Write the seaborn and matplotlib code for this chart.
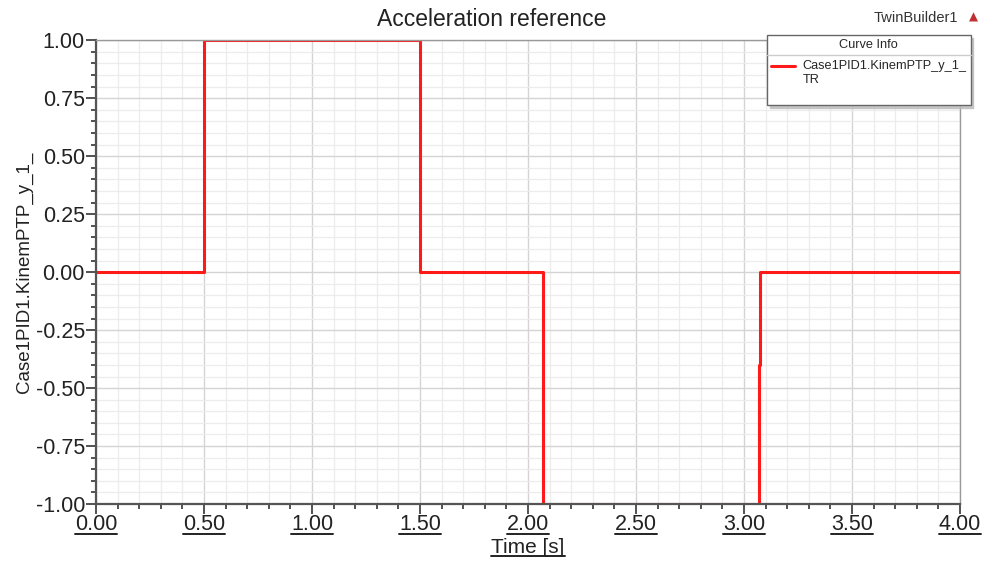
import numpy as np
import pandas as pd
import matplotlib
matplotlib.use('Agg')
import matplotlib.pyplot as plt
from matplotlib.ticker import MultipleLocator, FuncFormatter
from matplotlib.lines import Line2D
from matplotlib.transforms import Affine2D
import seaborn as sns

# step points of the acceleration reference (small jog on the last rising edge)
time_s = [0.0, 0.5, 1.5, 2.07, 3.07, 3.076, 4.0]
accel = [0.0, 1.0, 0.0, -1.0, -0.4, 0.0, 0.0]
series_name = 'Case1PID1.KinemPTP_y_1_\nTR\n'

df = pd.DataFrame({'Time [s]': time_s, 'y': accel})

sns.set_style('white')
plt.rcParams['font.family'] = ['Liberation Sans', 'DejaVu Sans']

fig = plt.figure(figsize=(9.84, 5.67), dpi=100)
ax = fig.add_axes([0.0976, 0.111, 0.878, 0.818])

sns.lineplot(data=df, x='Time [s]', y='y', drawstyle='steps-post',
             color='#ff1a1a', linewidth=2.2, ax=ax, label=series_name)

ax.set_xlim(0, 4)
ax.set_ylim(-1, 1)
ax.xaxis.set_major_locator(MultipleLocator(0.5))
ax.xaxis.set_minor_locator(MultipleLocator(0.1))
ax.yaxis.set_major_locator(MultipleLocator(0.25))
ax.yaxis.set_minor_locator(MultipleLocator(0.05))
ax.xaxis.set_major_formatter(FuncFormatter(lambda v, p: '%.2f' % v))
ax.yaxis.set_major_formatter(FuncFormatter(lambda v, p: '%.2f' % v))

ax.grid(which='major', color='#d4d4d4', linewidth=1.0)
ax.grid(which='minor', color='#ececec', linewidth=0.9)
ax.set_axisbelow(True)

ax.tick_params(axis='both', which='both', bottom=True, left=True, top=False, right=False)
ax.tick_params(axis='both', which='major', direction='out', length=7, width=1.3,
               color='#444444', labelsize=15.5, labelcolor='#222222', pad=1)
ax.tick_params(axis='x', which='major', pad=0)
ax.tick_params(axis='both', which='minor', direction='out', length=3.5, width=1.3,
               color='#444444')

for side in ['left', 'bottom']:
    ax.spines[side].set_color('#555555')
    ax.spines[side].set_linewidth(1.6)
for side in ['top', 'right']:
    ax.spines[side].set_color('#999999')
    ax.spines[side].set_linewidth(1.0)

fig.text(0.5, 1 - 19 / 567, 'Acceleration reference', ha='center', va='center',
         fontsize=16.5, color='#222222')
ax.set_xlabel('Time [s]', fontsize=15, color='#222222', labelpad=2)
ax.set_ylabel('Case1PID1.KinemPTP_y_1_', fontsize=13.5, color='#222222', labelpad=2)

fig.text(958 / 984, 1 - 18 / 567, 'TwinBuilder1', ha='right', va='center',
         fontsize=10.5, color='#333333')
fig.text(978 / 984, 1 - 17 / 567, '\u25b2', ha='right', va='center', fontsize=8.5,
         color='#c03030', family=['DejaVu Sans'])

leg = ax.legend(loc='upper left', bbox_to_anchor=(767 / 984, 1 - 35 / 567),
                bbox_transform=fig.transFigure, borderaxespad=0,
                title='Curve Info', fontsize=9.2, title_fontsize=9.2, frameon=True,
                fancybox=False, shadow={'color': '#bbbbbb', 'alpha': 0.8},
                borderpad=0.3, handlelength=1.9, handletextpad=0.6,
                alignment='center', labelspacing=0.7)
leg.get_frame().set_edgecolor('#666666')
leg.get_frame().set_linewidth(1.0)
leg.get_frame().set_facecolor('white')
for t in leg.get_texts():
    t.set_linespacing(1.3)

# put the legend swatch on the first text line
fig.canvas.draw()
handle = leg.legend_handles[0]
handle.set_transform(handle.get_transform() + Affine2D().translate(0, 14.5))

# underline the x tick labels and the x label, as in the original tool
fig.canvas.draw()
renderer = fig.canvas.get_renderer()
inv = fig.transFigure.inverted()
texts = [t for t in ax.get_xticklabels()
         if t.get_visible() and t.get_text() and 0 <= t.get_position()[0] <= 4]
texts.append(ax.xaxis.label)
for t in texts:
    bb = t.get_window_extent(renderer)
    (x0, y0), (x1, y1) = inv.transform([(bb.x0, bb.y0 + 1), (bb.x1, bb.y0 + 1)])
    fig.add_artist(Line2D([x0, x1], [y0, y1], transform=fig.transFigure,
                          color='#222222', linewidth=1.4))

# separator line under the legend title
fb = leg.get_frame().get_window_extent(renderer)
tb = leg.get_title().get_window_extent(renderer)
eb = leg.get_texts()[0].get_window_extent(renderer)
sep_y = (tb.y0 + eb.y1) / 2
(lx0, ly), (lx1, _) = inv.transform([(fb.x0, sep_y), (fb.x1, sep_y)])
fig.add_artist(Line2D([lx0, lx1], [ly, ly], transform=fig.transFigure,
                      color='#cccccc', linewidth=1.0))

fig.savefig('out.png', dpi=100)
